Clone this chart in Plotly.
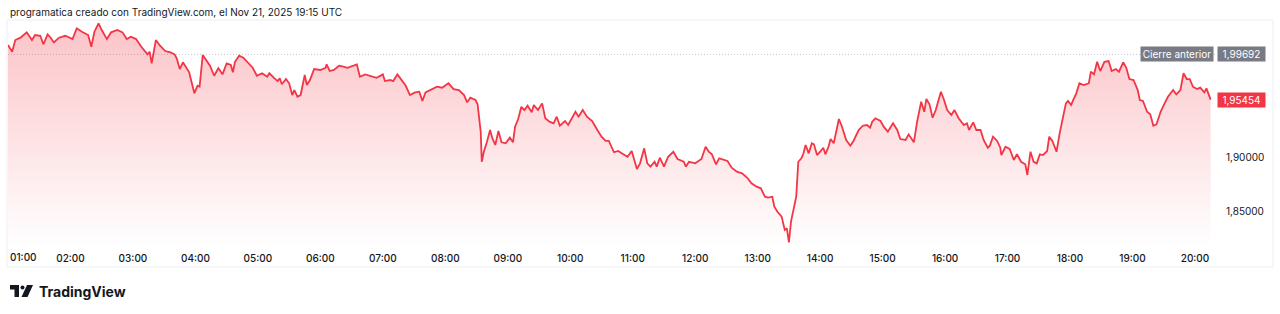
import pandas as pd
import plotly.graph_objects as go

# ---------------- data ----------------
session_date = "2025-11-21"
times = [
    "01:00","01:04","01:07","01:12","01:18","01:23","01:26","01:31","01:34","01:38",
    "01:41","01:44","01:49","01:55","02:02","02:06","02:11","02:17","02:20","02:23",
    "02:27","02:30","02:35","02:39","02:45","02:50","02:54","02:58","03:03","03:08",
    "03:14","03:16","03:18","03:22","03:26","03:31","03:36","03:40","03:42","03:45",
    "03:48","03:51","03:54","03:55","03:59","04:02","04:04","04:07","04:11","04:14",
    "04:18","04:22","04:26","04:30","04:34","04:36","04:38","04:42","04:46","04:50",
    "04:55","04:59","05:04","05:09","05:11","05:16","05:19","05:21","05:23","05:27",
    "05:30","05:33","05:35","05:38","05:41","05:45","05:47","05:50","05:54","06:00",
    "06:05","06:06","06:09","06:13","06:18","06:22","06:26","06:35","06:38","06:43",
    "06:48","06:54","07:00","07:02","07:07","07:10","07:14","07:18","07:22","07:26",
    "07:31","07:35","07:38","07:41","07:47","07:52","07:57","08:03","08:08","08:13",
    "08:18","08:21","08:24","08:29","08:31","08:34","08:35","08:37","08:40","08:43",
    "08:45","08:48","08:51","08:54","08:58","09:02","09:05","09:07","09:10","09:13",
    "09:16","09:19","09:23","09:25","09:29","09:33","09:36","09:40","09:44","09:47",
    "09:50","09:55","09:58","10:02","10:05","10:08","10:12","10:16","10:21","10:26",
    "10:30","10:34","10:37","10:42","10:46","10:51","10:55","10:59","11:04","11:07",
    "11:11","11:14","11:17","11:21","11:23","11:26","11:30","11:34","11:39","11:43",
    "11:49","11:51","11:54","12:00","12:04","12:06","12:10","12:13","12:16","12:20",
    "12:23","12:27","12:31","12:35","12:40","12:45","12:50","12:54","12:59","13:03",
    "13:07","13:10","13:14","13:16","13:19","13:23","13:26","13:28","13:30","13:32",
    "13:34","13:37","13:39","13:42","13:44","13:46","13:49","13:52","13:54","13:57",
    "14:00","14:03","14:05","14:08","14:10","14:13","14:18","14:21","14:25","14:29",
    "14:32","14:37","14:41","14:45","14:48","14:50","14:53","14:58","15:01","15:05",
    "15:10","15:14","15:17","15:22","15:25","15:30","15:33","15:37","15:40","15:42",
    "15:45","15:48","15:51","15:56","15:59","16:02","16:06","16:09","16:13","16:16",
    "16:18","16:21","16:23","16:27","16:30","16:34","16:37","16:41","16:43","16:46",
    "16:50","16:53","16:54","16:58","17:02","17:06","17:09","17:13","17:17","17:19",
    "17:22","17:25","17:28","17:31","17:34","17:38","17:40","17:43","17:47","17:50",
    "17:54","17:56","17:58","18:01","18:03","18:06","18:09","18:13","18:18","18:20",
    "18:23","18:26","18:29","18:33","18:37","18:40","18:44","18:47","18:51","18:54",
    "18:57","19:01","19:05","19:07","19:10","19:14","19:17","19:20","19:23","19:27",
    "19:30","19:34","19:39","19:42","19:46","19:49","19:52","19:55","19:58","20:02",
    "20:05","20:09","20:11","20:13","20:15",
]
prices = [
    2.0057,1.9994,2.0104,2.0126,2.0176,2.0104,2.0151,2.0144,2.0064,2.0158,
    2.0126,2.0082,2.0126,2.0144,2.0113,2.0214,2.0182,2.0151,2.0041,2.0182,
    2.0261,2.0198,2.0113,2.0176,2.0198,2.0176,2.0113,2.0135,2.0113,2.0041,
    1.9970,1.9994,1.9885,2.0104,2.0051,2.0001,1.9989,1.9970,1.9932,1.9832,
    1.9895,1.9854,1.9801,1.9760,1.9604,1.9675,1.9666,1.9963,1.9900,1.9863,
    1.9769,1.9839,1.9782,1.9885,1.9870,1.9801,1.9900,1.9957,1.9938,1.9895,
    1.9844,1.9769,1.9792,1.9760,1.9792,1.9745,1.9719,1.9745,1.9689,1.9738,
    1.9698,1.9588,1.9635,1.9572,1.9588,1.9776,1.9682,1.9729,1.9832,1.9823,
    1.9844,1.9876,1.9813,1.9823,1.9863,1.9854,1.9844,1.9876,1.9760,1.9782,
    1.9769,1.9750,1.9782,1.9719,1.9729,1.9719,1.9782,1.9729,1.9675,1.9588,
    1.9613,1.9619,1.9532,1.9613,1.9644,1.9666,1.9657,1.9698,1.9644,1.9635,
    1.9588,1.9520,1.9563,1.9541,1.9501,1.9244,1.8962,1.9056,1.9150,1.9260,
    1.9188,1.9119,1.9250,1.9144,1.9135,1.9188,1.9144,1.9291,1.9363,1.9478,
    1.9447,1.9488,1.9426,1.9494,1.9447,1.9510,1.9370,1.9338,1.9323,1.9385,
    1.9300,1.9344,1.9307,1.9385,1.9431,1.9385,1.9447,1.9385,1.9344,1.9260,
    1.9197,1.9157,1.9157,1.9051,1.9063,1.9032,1.9009,1.9063,1.8894,1.8947,
    1.9088,1.8947,1.8916,1.8962,1.8916,1.9000,1.8916,1.9009,1.9056,1.8988,
    1.8962,1.8916,1.8962,1.8947,1.8978,1.8988,1.9103,1.9056,1.9032,1.8938,
    1.8994,1.8978,1.8969,1.8906,1.8869,1.8854,1.8812,1.8760,1.8728,1.8713,
    1.8634,1.8625,1.8634,1.8540,1.8493,1.8447,1.8322,1.8338,1.8206,1.8400,
    1.8493,1.8634,1.8962,1.8994,1.9041,1.9119,1.9041,1.9135,1.9126,1.9025,
    1.9056,1.9094,1.9032,1.9103,1.9175,1.9135,1.9363,1.9291,1.9166,1.9113,
    1.9157,1.9260,1.9300,1.9307,1.9281,1.9338,1.9370,1.9344,1.9291,1.9244,
    1.9323,1.9260,1.9175,1.9166,1.9219,1.9144,1.9332,1.9525,1.9431,1.9551,
    1.9501,1.9375,1.9447,1.9619,1.9541,1.9447,1.9401,1.9447,1.9370,1.9332,
    1.9307,1.9323,1.9260,1.9332,1.9260,1.9260,1.9166,1.9094,1.9113,1.9197,
    1.9157,1.9094,1.9025,1.9103,1.9082,1.8978,1.9032,1.8962,1.8938,1.8838,
    1.9056,1.8962,1.8947,1.9032,1.9025,1.9063,1.9197,1.9157,1.9056,1.9229,
    1.9431,1.9510,1.9532,1.9494,1.9541,1.9604,1.9698,1.9682,1.9698,1.9807,
    1.9782,1.9900,1.9813,1.9900,1.9907,1.9813,1.9832,1.9807,1.9895,1.9844,
    1.9738,1.9729,1.9635,1.9541,1.9532,1.9431,1.9407,1.9300,1.9313,1.9431,
    1.9494,1.9572,1.9635,1.9595,1.9635,1.9792,1.9738,1.9738,1.9666,1.9644,
    1.9657,1.9613,1.9651,1.9588,1.95454,
]
hour_labels = ["01:00","02:00","03:00","04:00","05:00","06:00","07:00","08:00","09:00","10:00",
               "11:00","12:00","13:00","14:00","15:00","16:00","17:00","18:00","19:00","20:00"]
price_ticks = [1.85, 1.90]          # 1,95000 and 2,00000 are hidden behind the price tags
prev_close = 1.99692
last_price = 1.95454
title_text = "programatica creado con TradingView.com, el Nov 21, 2025 19:15 UTC"
prev_close_label = "Cierre anterior"
brand_text = "TradingView"

# ---------------- figure ----------------
W, H = 1280, 314
L, R, T, B = 8, 1216, 20, 245          # plot pane in pixels
y_range = [1.8181, 2.0292]
x_range = [f"{session_date} 01:00", f"{session_date} 20:20:10"]

def px2x(px):
    return (px - L) / (R - L)

def px2y(py):
    return (B - py) / (B - T)

def fmt(v):
    return f"{v:.5f}".replace(".", ",")

dt = pd.to_datetime([f"{session_date} {t}" for t in times])
hour_dt = pd.to_datetime([f"{session_date} {h}" for h in hour_labels])

RED = "#F23645"
TXT = "#131722"
FONT = "Inter"

fig = go.Figure()
fig.add_trace(go.Scatter(
    x=dt, y=prices, mode="lines",
    line=dict(color=RED, width=1.8),
    fill="tozeroy",
    fillgradient=dict(type="vertical",
                      colorscale=[[0, "rgba(242,54,69,0.0)"], [1, "rgba(242,54,69,0.30)"]],
                      start=y_range[0], stop=y_range[1]),
    hoverinfo="skip", showlegend=False,
))

shapes = [
    # outer frame
    dict(type="rect", xref="paper", yref="paper",
         x0=px2x(7), x1=px2x(1273), y0=px2y(267), y1=px2y(20),
         line=dict(color="#eceef2", width=1), fillcolor="rgba(0,0,0,0)", layer="below"),
    # previous close dotted line
    dict(type="line", xref="paper", yref="y", x0=0, x1=1, y0=prev_close, y1=prev_close,
         line=dict(color="#c3c6ce", width=1, dash="1px,2px"), layer="below"),
    # TradingView logo mark
    dict(type="path", xref="paper", yref="paper",
         path=(f"M {px2x(10)} {px2y(285)} L {px2x(19)} {px2y(285)} L {px2x(19)} {px2y(297)} "
               f"L {px2x(14.5)} {px2y(297)} L {px2x(14.5)} {px2y(289.5)} L {px2x(10)} {px2y(289.5)} Z"),
         fillcolor=TXT, line=dict(width=0)),
    dict(type="circle", xref="paper", yref="paper",
         x0=px2x(20.5), x1=px2x(24.5), y0=px2y(289.5), y1=px2y(285.5),
         fillcolor=TXT, line=dict(width=0)),
    dict(type="path", xref="paper", yref="paper",
         path=(f"M {px2x(27)} {px2y(285)} L {px2x(33)} {px2y(285)} L {px2x(27.5)} {px2y(297)} "
               f"L {px2x(21.5)} {px2y(297)} Z"),
         fillcolor=TXT, line=dict(width=0)),
]

annotations = [
    dict(text=title_text, xref="paper", yref="paper", x=px2x(8), y=px2y(12),
         xanchor="left", yanchor="middle", showarrow=False,
         font=dict(family=FONT, size=10, color=TXT)),
    # first hour label (shifted inside like TradingView does)
    dict(text=hour_labels[0], xref="x", yref="paper", x=hour_dt[0], y=px2y(257),
         xanchor="left", yanchor="middle", showarrow=False,
         font=dict(family=FONT, size=10, color=TXT, weight=500)),
    # previous close tags
    dict(text=prev_close_label, xref="paper", yref="y", x=px2x(1140), y=prev_close,
         xanchor="left", yanchor="middle", showarrow=False, width=70, height=12,
         bgcolor="#787b86", borderpad=1, font=dict(family=FONT, size=10, color="white")),
    dict(text=fmt(prev_close), xref="paper", yref="y", x=px2x(1217), y=prev_close,
         xanchor="left", yanchor="middle", showarrow=False, width=45, height=12,
         bgcolor="#787b86", borderpad=1, font=dict(family=FONT, size=10, color="white")),
    # last price tag
    dict(text=fmt(last_price), xref="paper", yref="y", x=px2x(1217), y=last_price,
         xanchor="left", yanchor="middle", showarrow=False, width=45, height=12,
         bgcolor=RED, borderpad=1, font=dict(family=FONT, size=10, color="white")),
    # brand
    dict(text=f"<b>{brand_text}</b>", xref="paper", yref="paper", x=px2x(37), y=px2y(291),
         xanchor="left", yanchor="middle", showarrow=False,
         font=dict(family=FONT, size=14, color=TXT)),
]

fig.update_layout(
    width=W, height=H,
    margin=dict(l=L, r=W - R, t=T, b=H - B, pad=0),
    paper_bgcolor="white", plot_bgcolor="white",
    separators=",.",
    showlegend=False,
    hovermode=False,
    shapes=shapes,
    annotations=annotations,
    xaxis=dict(type="date", range=x_range, showgrid=False, zeroline=False, showline=False,
               ticks="", tickvals=hour_dt[1:], ticktext=hour_labels[1:],
               tickfont=dict(family=FONT, size=10, color=TXT, weight=500),
               ticklabelstandoff=6, fixedrange=True),
    yaxis=dict(side="right", range=y_range, showgrid=False, zeroline=False, showline=False,
               ticks="", tickvals=price_ticks, ticktext=[fmt(v) for v in price_ticks],
               tickfont=dict(family=FONT, size=10, color=TXT),
               ticklabelstandoff=9, fixedrange=True),
)

fig.write_html("out.html", config=dict(displayModeBar=False, staticPlot=True))
